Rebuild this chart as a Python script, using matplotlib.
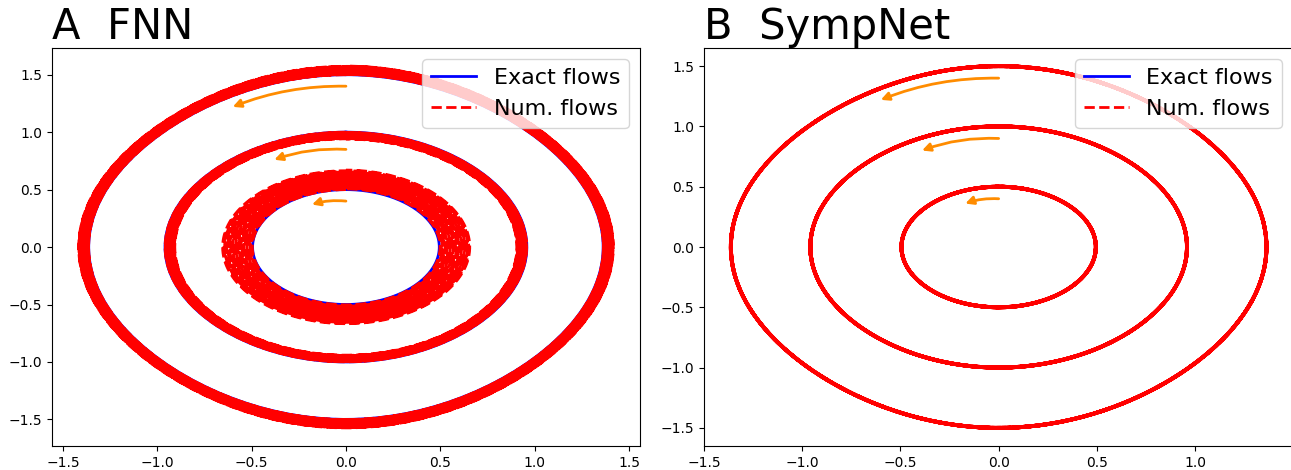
import numpy as np
import matplotlib.pyplot as plt

# pendulum orbits start at (p, q) = (0, q0)
q0 = [0.5, 1.0, 1.5]

# FNN: q amplitude each orbit has drifted to at the end of the run
fnn_q_end = [0.67, 0.94, 1.575]
fnn_loops = [30, 30, 40]

# SympNet: stays on the exact orbit
symp_q_end = [0.5, 1.0, 1.5]
symp_loops = [6, 6, 6]

# direction arrows, (start, end) per orbit
fnn_arrows = [((0, 0.40), (-0.18, 0.37)),
              ((0, 0.85), (-0.38, 0.76)),
              ((0, 1.40), (-0.60, 1.22))]
symp_arrows = [((0, 0.40), (-0.17, 0.36)),
               ((0, 0.90), (-0.39, 0.80)),
               ((0, 1.40), (-0.60, 1.22))]

titles = ["A  FNN", "B  SympNet"]
num_lw = [2, 2.8]


def orbit(q_start, q_end, loops, n=300):
    # level set of H = p^2/2 - cos(q), amplitude drifting from q_start to q_end
    phi = np.linspace(np.pi / 2, np.pi / 2 + 2 * np.pi * loops, n * loops)
    amp = np.linspace(q_start, q_end, phi.size)
    k = np.sin(amp / 2)
    p = 2 * k * np.cos(phi)
    q = 2 * np.arcsin(k * np.sin(phi))
    return p, q


W, H = 1291, 470
fig = plt.figure(figsize=(W / 100, H / 100), dpi=100)
ax_a = fig.add_axes([52 / W, 1 - 446 / H, 588 / W, 398 / H])
ax_b = fig.add_axes([704 / W, 1 - 446 / H, 589 / W, 398 / H])

panels = [(ax_a, fnn_q_end, fnn_loops, fnn_arrows),
          (ax_b, symp_q_end, symp_loops, symp_arrows)]

for i, (ax, q_end, loops, arrows) in enumerate(panels):
    for j in range(len(q0)):
        p, q = orbit(q0[j], q0[j], 1)
        ax.plot(p, q, color="blue", lw=2, label="Exact flows" if j == 0 else None)
    for j in range(len(q0)):
        p, q = orbit(q0[j], q_end[j], loops[j])
        ax.plot(p, q, color="red", lw=num_lw[i], ls="--",
                label="Num. flows" if j == 0 else None)
    for start, end in arrows:
        ax.annotate("", xy=end, xytext=start,
                    arrowprops=dict(arrowstyle="-|>", color="darkorange", lw=2,
                                    mutation_scale=12, shrinkA=0, shrinkB=0,
                                    connectionstyle="arc3,rad=0.1"))
    leg = ax.legend(loc="upper right", fontsize=16)
    for line in leg.get_lines():
        line.set_linewidth(2)
    ax.set_title(titles[i], loc="left", fontsize=30)

ax_b.set_xlim(-1.5, 1.4985)

fig.savefig("out.png", dpi=100)
